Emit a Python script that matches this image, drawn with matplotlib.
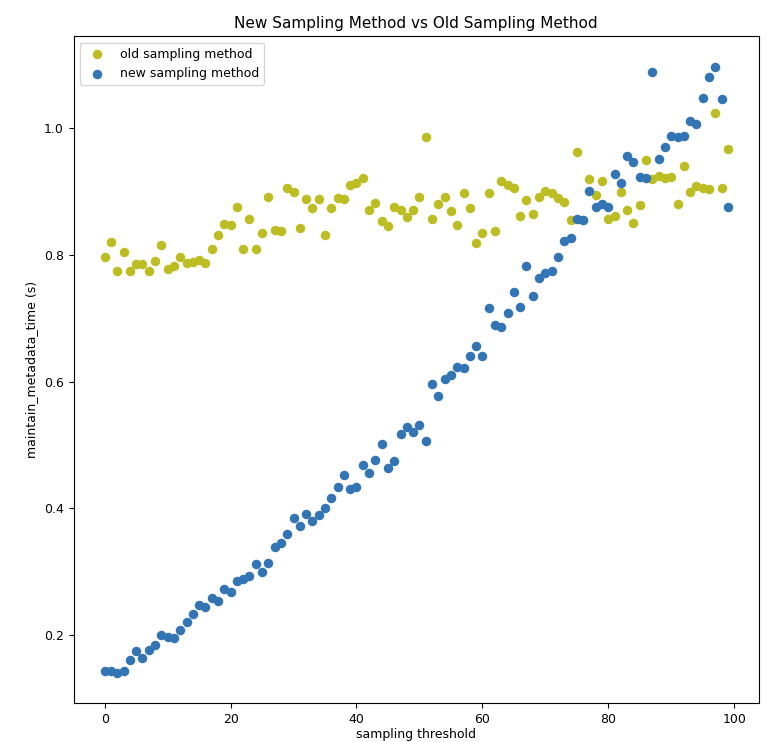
import numpy as np
import matplotlib
matplotlib.use("Agg")
import matplotlib.pyplot as plt

threshold = np.arange(100)

old_time = [
    0.797, 0.820, 0.774, 0.805, 0.774, 0.785, 0.785, 0.775, 0.790, 0.815,
    0.777, 0.782, 0.796, 0.787, 0.789, 0.792, 0.787, 0.809, 0.832, 0.849,
    0.847, 0.876, 0.810, 0.857, 0.809, 0.834, 0.892, 0.840, 0.838, 0.906,
    0.899, 0.842, 0.888, 0.874, 0.888, 0.832, 0.874, 0.890, 0.888, 0.911,
    0.913, 0.921, 0.871, 0.882, 0.854, 0.846, 0.876, 0.871, 0.859, 0.871,
    0.892, 0.986, 0.857, 0.880, 0.892, 0.869, 0.847, 0.898, 0.874, 0.818,
    0.834, 0.898, 0.838, 0.917, 0.911, 0.905, 0.861, 0.886, 0.865, 0.892,
    0.900, 0.898, 0.889, 0.884, 0.855, 0.963, 0.855, 0.919, 0.894, 0.917,
    0.857, 0.861, 0.899, 0.870, 0.851, 0.878, 0.950, 0.919, 0.924, 0.921,
    0.923, 0.880, 0.940, 0.899, 0.908, 0.906, 0.904, 1.024, 0.906, 0.967,
]

new_time = [
    0.143, 0.143, 0.141, 0.143, 0.161, 0.175, 0.164, 0.176, 0.184, 0.200,
    0.197, 0.195, 0.209, 0.221, 0.233, 0.248, 0.244, 0.258, 0.254, 0.273,
    0.269, 0.285, 0.289, 0.294, 0.312, 0.300, 0.314, 0.340, 0.346, 0.359,
    0.385, 0.373, 0.392, 0.381, 0.389, 0.400, 0.416, 0.434, 0.453, 0.431,
    0.434, 0.468, 0.456, 0.476, 0.501, 0.464, 0.475, 0.517, 0.529, 0.520,
    0.531, 0.507, 0.596, 0.578, 0.605, 0.611, 0.623, 0.622, 0.641, 0.657,
    0.641, 0.716, 0.689, 0.687, 0.708, 0.741, 0.718, 0.782, 0.735, 0.764,
    0.772, 0.775, 0.797, 0.822, 0.826, 0.857, 0.855, 0.900, 0.875, 0.881,
    0.875, 0.927, 0.913, 0.956, 0.946, 0.923, 0.921, 1.089, 0.952, 0.970,
    0.988, 0.986, 0.988, 1.011, 1.007, 1.048, 1.081, 1.097, 1.046, 0.875,
]

plt.rcParams["font.size"] = 9

fig = plt.figure(figsize=(7.79, 7.42), dpi=100)
ax = fig.add_axes([0.0944, 0.0526, 0.8800, 0.8985])

ax.scatter(threshold, old_time, color="#bcbd22", s=34, label="old sampling method")
ax.scatter(threshold, new_time, color="#3274b4", s=34, label="new sampling method")

ax.set_title("New Sampling Method vs Old Sampling Method", fontsize=11)
ax.set_xlabel("sampling threshold", labelpad=2)
ax.set_ylabel("maintain_metadata_time (s)")
ax.legend(loc="upper left")

fig.savefig("out.png", dpi=100)
